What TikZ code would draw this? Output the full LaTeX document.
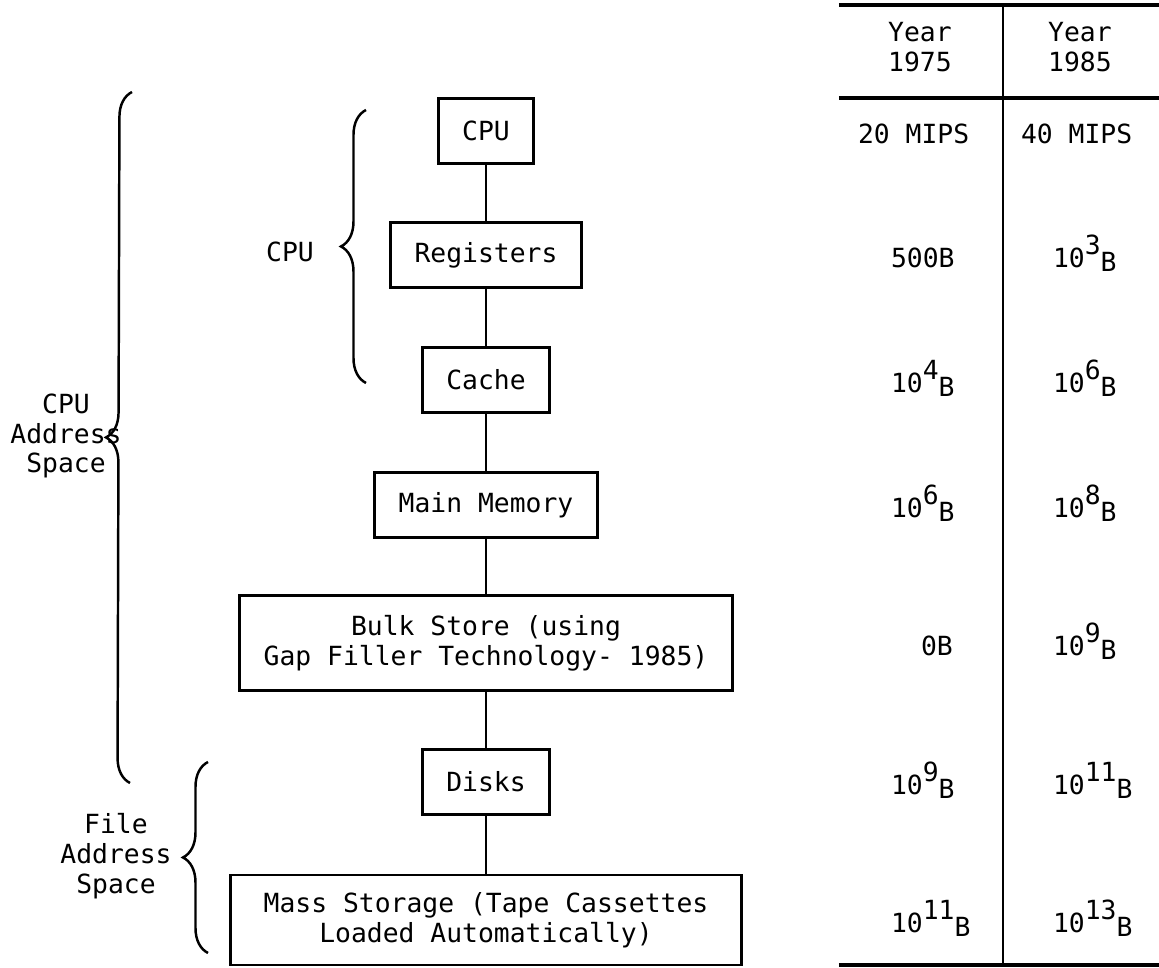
\documentclass[tikz,border=0pt]{standalone}
\usepackage{fontspec}
\setmonofont{DejaVu Sans Mono}
\usetikzlibrary{decorations.pathreplacing}
\newcommand{\tenB}[1]{10\raisebox{.5em}{#1}\raisebox{-.15em}{B}}
\tikzset{unit/.style={draw,line width=.8pt,inner xsep=.24cm,minimum height=.65cm,align=center},
  twoline/.style={unit,minimum height=.95cm},
  val/.style={anchor=west,inner sep=0pt,text height=.73em,text depth=0pt},
  membrace/.style={decorate,decoration={brace,amplitude=.25cm},line width=.7pt},
  rule/.style={line width=1pt}}

\begin{document}
\begin{tikzpicture}[x=.01cm,y=-.01cm,font=\ttfamily\fontsize{7.5}{8.5}\selectfont,line width=.6pt]
\useasboundingbox (0,0) rectangle (1159,968);
\node[unit] (cpu) at (486,131) {CPU};
\node[unit] (reg) at (486,255) {Registers};
\node[unit] (cache) at (486,380) {Cache};
\node[unit] (mem) at (486,505) {Main Memory};
\node[twoline] (bulk) at (486,643) {Bulk Store (using\\Gap Filler Technology- 1985)};
\node[twoline,inner xsep=.33cm,minimum height=.9cm] (mass) at (486,920) {Mass Storage (Tape Cassettes\\Loaded Automatically)};
\node[unit] (disks) at (486,782) {Disks};
\draw (cpu)--(reg) (reg)--(cache) (cache)--(mem) (mem)--(bulk) (bulk)--(disks) (disks)--(mass);
\coordinate (cast) at (132,92); \coordinate (casb) at (130,783);
\coordinate (cput) at (366,110); \coordinate (cpub) at (366,383);
\coordinate (fast) at (208,762); \coordinate (fasb) at (208,953);
\draw[membrace] (casb)--(cast); \draw[membrace] (cpub)--(cput); \draw[membrace] (fasb)--(fast);
\node[align=center] (caslab) at (66,436) {CPU\\Address\\Space};
\node (cpulab) at (290,252) {CPU};
\node[align=center] (faslab) at (116,856) {File\\Address\\Space};
\coordinate (tl) at (839,5); \coordinate (tr) at (1159,5); \coordinate (hl) at (839,98); \coordinate (hr) at (1159,98);
\coordinate (bl) at (839,965); \coordinate (br) at (1159,965); \coordinate (dt) at (1003,5); \coordinate (db) at (1003,965);
\draw[rule] (tl)--(tr) (hl)--(hr) (bl)--(br); \draw[line width=.7pt] (dt)--(db);
\node[align=center] (y75) at (920,47) {Year\\1975}; \node[align=center] (y85) at (1080,47) {Year\\1985};
\node[val] (a1) at (857,131) {20 MIPS}; \node[val] (b1) at (1020,131) {40 MIPS};
\node[val] (a2) at (890,255) {500B}; \node[val] (b2) at (1052,255) {\tenB{3}};
\node[val] (a3) at (890,380) {\tenB{4}}; \node[val] (b3) at (1052,380) {\tenB{6}};
\node[val] (a4) at (890,505) {\tenB{6}}; \node[val] (b4) at (1052,505) {\tenB{8}};
\node[val] (a5) at (920,643) {0B}; \node[val] (b5) at (1052,643) {\tenB{9}};
\node[val] (a6) at (890,782) {\tenB{9}}; \node[val] (b6) at (1052,782) {\tenB{11}};
\node[val] (a7) at (890,920) {\tenB{11}}; \node[val] (b7) at (1052,920) {\tenB{13}};
\end{tikzpicture}
\end{document}
